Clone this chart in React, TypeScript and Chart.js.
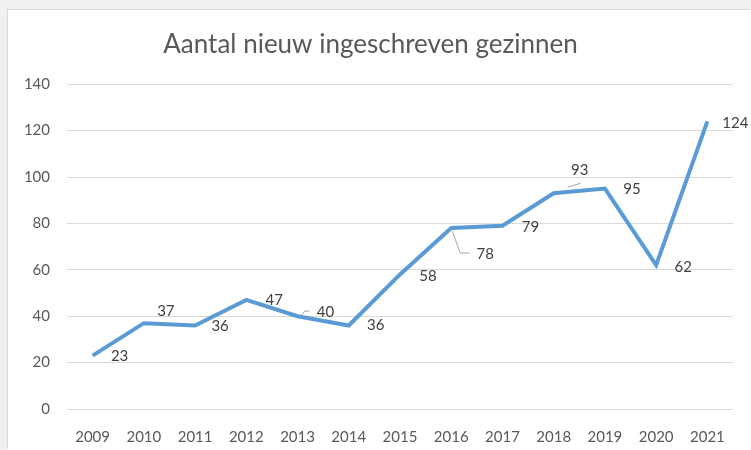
import React, { useEffect, useRef } from "react";
import { Chart, registerables } from "chart.js";

Chart.register(...registerables);

const years = ["2009", "2010", "2011", "2012", "2013", "2014", "2015", "2016", "2017", "2018", "2019", "2020", "2021"];
const gezinnen = [23, 37, 36, 47, 40, 36, 58, 78, 79, 93, 95, 62, 124];
const titleText = "Aantal nieuw ingeschreven gezinnen";

// label offsets (style only): [dx, dy] relative to the point
const labelOffsets: [number, number][] = [
  [27, 1], [22, -12], [25, 1], [28, 0], [28, -4], [27, 0], [28, 2],
  [34, 26], [28, 1], [26, -23], [27, 1], [27, 2], [28, 2],
];
// leader lines (style only): polyline offsets relative to the point, or null
const leaders: ([number, number][] | null)[] = [
  null, null, null, null, [[4, -1], [7, -5], [12, -5]], null, null,
  [[1, 3], [9, 25], [18, 25]], null, [[14, -6], [27, -10]], null, null, null,
];

const FONT = "Lato, 'Open Sans', sans-serif";

const labelPlugin = {
  id: "pointLabels",
  afterDatasetsDraw(chart: any) {
    const ctx = chart.ctx;
    const meta = chart.getDatasetMeta(0);
    ctx.save();
    meta.data.forEach((pt: any, i: number) => {
      const { x, y } = pt.getProps(["x", "y"], true);
      const ld = leaders[i];
      if (ld) {
        ctx.strokeStyle = "#a6a6a6";
        ctx.lineWidth = 1;
        ctx.beginPath();
        ld.forEach(([dx, dy], k) => {
          if (k === 0) ctx.moveTo(x + dx, y + dy);
          else ctx.lineTo(x + dx, y + dy);
        });
        ctx.stroke();
      }
      const [ox, oy] = labelOffsets[i];
      ctx.fillStyle = "#404040";
      ctx.font = `15px ${FONT}`;
      ctx.textAlign = "center";
      ctx.textBaseline = "middle";
      ctx.fillText(String(gezinnen[i]), x + ox, y + oy);
    });
    ctx.restore();
  },
};

export default function App() {
  const ref = useRef<HTMLCanvasElement | null>(null);
  useEffect(() => {
    if (!ref.current) return;
    const chart = new Chart(ref.current, {
      type: "line",
      data: {
        labels: years,
        datasets: [
          {
            data: gezinnen,
            borderColor: "#5B9BD5",
            borderWidth: 4,
            pointRadius: 0,
            pointHoverRadius: 0,
            tension: 0,
            fill: false,
          },
        ],
      },
      options: {
        animation: false,
        responsive: false,
        maintainAspectRatio: false,
        layout: { padding: { top: 0, right: 18, bottom: 0, left: 0 } },
        plugins: {
          legend: { display: false },
          tooltip: { enabled: false },
          title: {
            display: true,
            text: titleText,
            color: "#595959",
            font: { family: FONT, size: 26, weight: "normal" },
            padding: { top: 19, bottom: 24 },
          },
        },
        scales: {
          x: {
            offset: true,
            grid: { display: false, drawTicks: false },
            border: { display: false },
            ticks: {
              color: "#595959",
              font: { family: FONT, size: 15 },
              padding: 19,
              maxRotation: 0,
              autoSkip: false,
            },
            afterFit(scale: any) {
              scale.height = 41;
            },
          },
          y: {
            min: 0,
            max: 140,
            grid: { color: "#d9d9d9", lineWidth: 1, drawTicks: false },
            border: { display: false },
            ticks: {
              stepSize: 20,
              color: "#595959",
              font: { family: FONT, size: 15 },
              padding: 17,
            },
            afterFit(scale: any) {
              scale.width = 59;
            },
          },
        },
      },
      plugins: [labelPlugin],
    });
    return () => chart.destroy();
  }, []);

  return (
    <div style={{ position: "fixed", inset: 0, background: "#f0f0f0" }}>
      <div
        style={{
          position: "absolute",
          left: 8,
          top: 10,
          width: 743,
          height: 440,
          background: "#ffffff",
          boxShadow: "-1px -1px 0 #d9d9d9",
        }}
      >
        <canvas ref={ref} width={743} height={440} style={{ display: "block" }} />
      </div>
    </div>
  );
}
